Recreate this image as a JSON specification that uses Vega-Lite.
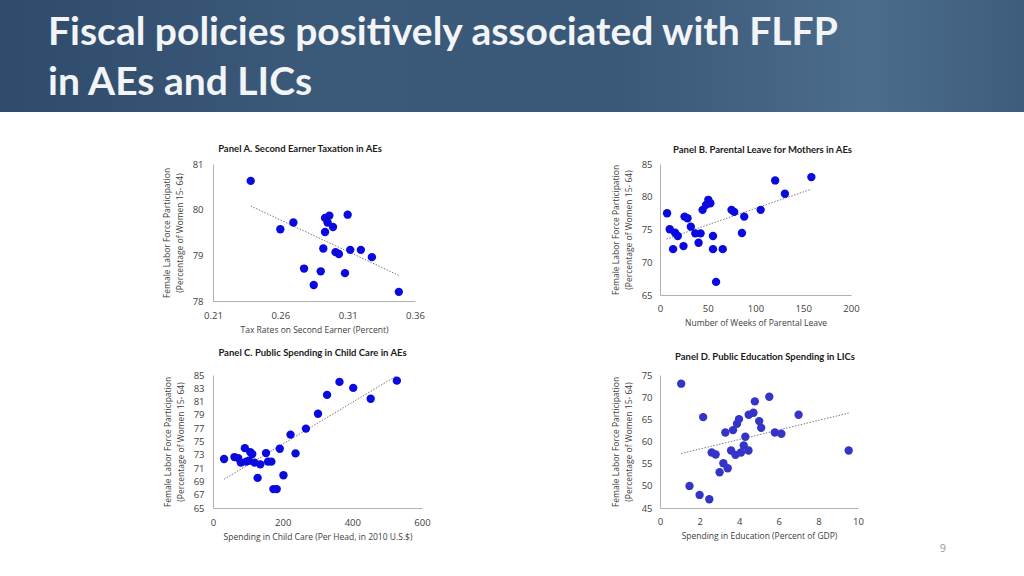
{
  "$schema": "https://vega.github.io/schema/vega-lite/v6.json",
  "padding": 0,
  "background": "white",
  "config": {
    "view": {"stroke": null},
    "axis": {"grid": false, "ticks": false, "labelOverlap": false, "labelFlush": false, "domainColor": "#b0b0b0", "labelColor": "#404040", "titleColor": "#404040", "labelFont": "Open Sans", "titleFont": "Open Sans", "labelFontSize": 9.5, "titleFontSize": 8.5, "titleFontWeight": "normal", "titleLineHeight": 12.5},
    "title": {"font": "Lato", "fontWeight": "bold", "fontSize": 9.5, "color": "#1a1a1a"}
  },
  "title": {"text": "9", "orient": "bottom", "anchor": "end", "frame": "bounds", "dx": -78, "offset": 2, "font": "Open Sans", "fontWeight": "normal", "fontSize": 11, "color": "#9a9a9a"},
  "datasets": {
    "a": [
      {"tax": 0.238, "flfp": 80.63}, {"tax": 0.260, "flfp": 79.57}, {"tax": 0.2697, "flfp": 79.72}, {"tax": 0.2776, "flfp": 78.71},
      {"tax": 0.2848, "flfp": 78.35}, {"tax": 0.290, "flfp": 78.65}, {"tax": 0.2919, "flfp": 79.15}, {"tax": 0.2932, "flfp": 79.51},
      {"tax": 0.2932, "flfp": 79.82}, {"tax": 0.2951, "flfp": 79.72}, {"tax": 0.2964, "flfp": 79.87}, {"tax": 0.2991, "flfp": 79.62},
      {"tax": 0.301, "flfp": 79.07}, {"tax": 0.3035, "flfp": 79.03}, {"tax": 0.308, "flfp": 78.61}, {"tax": 0.310, "flfp": 79.89},
      {"tax": 0.3119, "flfp": 79.12}, {"tax": 0.3198, "flfp": 79.12}, {"tax": 0.328, "flfp": 78.96}, {"tax": 0.348, "flfp": 78.2}
    ],
    "aTrend": [{"tax": 0.238, "flfp": 80.08}, {"tax": 0.348, "flfp": 78.56}],
    "b": [
      {"weeks": 7.4, "flfp": 77.48}, {"weeks": 10.2, "flfp": 75.03}, {"weeks": 13.7, "flfp": 72.0}, {"weeks": 15.8, "flfp": 74.51},
      {"weeks": 18.6, "flfp": 74.0}, {"weeks": 24.6, "flfp": 72.47}, {"weeks": 25.7, "flfp": 76.97}, {"weeks": 28.8, "flfp": 76.71},
      {"weeks": 32.3, "flfp": 75.43}, {"weeks": 36.9, "flfp": 74.41}, {"weeks": 40.4, "flfp": 72.98}, {"weeks": 42.5, "flfp": 74.41},
      {"weeks": 44.6, "flfp": 78.0}, {"weeks": 48.2, "flfp": 78.76}, {"weeks": 50.6, "flfp": 79.53}, {"weeks": 52.7, "flfp": 79.0},
      {"weeks": 55.5, "flfp": 74.0}, {"weeks": 55.5, "flfp": 72.0}, {"weeks": 58.7, "flfp": 67.0}, {"weeks": 65.7, "flfp": 72.0},
      {"weeks": 74.9, "flfp": 78.0}, {"weeks": 77.7, "flfp": 77.69}, {"weeks": 85.8, "flfp": 74.46}, {"weeks": 88.2, "flfp": 76.97},
      {"weeks": 105.4, "flfp": 78.0}, {"weeks": 120.6, "flfp": 82.49}, {"weeks": 130.8, "flfp": 80.45}, {"weeks": 158.5, "flfp": 83.0}
    ],
    "bTrend": [{"weeks": 6.7, "flfp": 73.54}, {"weeks": 158.5, "flfp": 81.16}],
    "c": [
      {"spend": 31.8, "flfp": 72.36}, {"spend": 61.6, "flfp": 72.66}, {"spend": 72.2, "flfp": 72.51}, {"spend": 79.9, "flfp": 71.82},
      {"spend": 91.5, "flfp": 74.0}, {"spend": 95.3, "flfp": 71.97}, {"spend": 103.1, "flfp": 72.11}, {"spend": 106.9, "flfp": 73.41},
      {"spend": 112.7, "flfp": 73.11}, {"spend": 119.4, "flfp": 71.82}, {"spend": 128.1, "flfp": 69.53}, {"spend": 135.8, "flfp": 71.57},
      {"spend": 152.2, "flfp": 73.26}, {"spend": 158.0, "flfp": 71.97}, {"spend": 167.6, "flfp": 71.97}, {"spend": 173.4, "flfp": 67.84},
      {"spend": 183.0, "flfp": 67.84}, {"spend": 191.7, "flfp": 73.91}, {"spend": 202.3, "flfp": 69.93}, {"spend": 222.5, "flfp": 76.04},
      {"spend": 237.0, "flfp": 73.21}, {"spend": 266.8, "flfp": 76.94}, {"spend": 301.5, "flfp": 79.18}, {"spend": 327.5, "flfp": 82.01},
      {"spend": 363.1, "flfp": 83.96}, {"spend": 402.6, "flfp": 83.06}, {"spend": 452.7, "flfp": 81.42}, {"spend": 527.8, "flfp": 84.15}
    ],
    "cTrend": [{"spend": 31.8, "flfp": 69.33}, {"spend": 523, "flfp": 84.75}],
    "d": [
      {"edu": 1.07, "flfp": 73.04}, {"edu": 1.49, "flfp": 49.98}, {"edu": 2.0, "flfp": 47.95}, {"edu": 2.18, "flfp": 65.5},
      {"edu": 2.49, "flfp": 46.97}, {"edu": 2.61, "flfp": 57.52}, {"edu": 2.81, "flfp": 57.06}, {"edu": 3.01, "flfp": 53.07},
      {"edu": 3.2, "flfp": 55.1}, {"edu": 3.3, "flfp": 62.04}, {"edu": 3.42, "flfp": 53.97}, {"edu": 3.59, "flfp": 57.97},
      {"edu": 3.69, "flfp": 62.57}, {"edu": 3.81, "flfp": 56.99}, {"edu": 3.89, "flfp": 64.0}, {"edu": 3.99, "flfp": 65.05},
      {"edu": 4.09, "flfp": 57.52}, {"edu": 4.23, "flfp": 59.1}, {"edu": 4.31, "flfp": 61.06}, {"edu": 4.47, "flfp": 57.97},
      {"edu": 4.48, "flfp": 66.03}, {"edu": 4.72, "flfp": 66.48}, {"edu": 4.79, "flfp": 69.05}, {"edu": 5.01, "flfp": 64.6},
      {"edu": 5.11, "flfp": 63.09}, {"edu": 5.52, "flfp": 70.1}, {"edu": 5.8, "flfp": 62.04}, {"edu": 6.13, "flfp": 61.74},
      {"edu": 7.0, "flfp": 66.03}, {"edu": 9.53, "flfp": 57.97}
    ],
    "dTrend": [{"edu": 1.07, "flfp": 57.29}, {"edu": 9.53, "flfp": 66.41}]
  },
  "spacing": 31,
  "vconcat": [
    {
      "width": 1024,
      "height": 112,
      "view": {"fill": {"gradient": "linear", "x1": 0, "y1": 0, "x2": 1, "y2": 0, "stops": [{"offset": 0, "color": "#2f4b6b"}, {"offset": 0.3, "color": "#3b5979"}, {"offset": 0.6, "color": "#3a5878"}, {"offset": 0.85, "color": "#4c6c8b"}, {"offset": 1, "color": "#3e5d7c"}]}, "stroke": null},
      "title": {"text": ["Fiscal policies positively associated with FLFP", "in AEs and LICs"], "anchor": "start", "frame": "group", "orient": "top", "baseline": "alphabetic", "offset": -134, "dx": 48, "font": "Lato", "fontWeight": "bold", "fontSize": 39, "color": "#f2f4f7", "lineHeight": 50},
      "data": {"values": [{"t": ""}]},
      "mark": {"type": "text"},
      "encoding": {"text": {"field": "t"}}
    },
    {
      "spacing": 161,
      "hconcat": [
        {
          "width": 1, "height": 1,
          "data": {"values": [{"t": ""}]},
          "mark": {"type": "text"},
          "encoding": {"text": {"field": "t"}}
        },
        {
          "columns": 2,
          "bounds": "flush",
          "spacing": {"row": 74, "column": 238},
          "concat": [
            {
              "width": 202, "height": 137,
              "title": {"text": "Panel A. Second Earner Taxation in AEs", "offset": 6, "dx": -14},
              "encoding": {
                "x": {"field": "tax", "type": "quantitative", "scale": {"domain": [0.21, 0.36], "nice": false}, "axis": {"values": [0.21, 0.26, 0.31, 0.36], "tickCount": 4, "format": ".2f", "labelOverlap": false, "labelFlush": false, "title": "Tax Rates on Second Earner (Percent)", "labelPadding": 9, "titlePadding": 6}},
                "y": {"field": "flfp", "type": "quantitative", "scale": {"domain": [78, 81], "zero": false, "nice": false}, "axis": {"values": [78, 79, 80, 81], "tickCount": 4, "labelOverlap": false, "labelFlush": false, "title": ["Female Labor Force Participation", "(Percentage of Women 15- 64)"], "labelPadding": 10, "titlePadding": 8}}
              },
              "layer": [
                {"data": {"name": "aTrend"}, "mark": {"type": "line", "color": "#7a7a7a", "strokeDash": [1.5, 1.5], "strokeWidth": 1}},
                {"data": {"name": "a"}, "mark": {"type": "circle", "size": 70, "color": "#0a0ae0", "opacity": 1}}
              ]
            },
            {
              "width": 191, "height": 131,
              "title": {"text": "Panel B. Parental Leave for Mothers in AEs", "offset": 5, "dx": 7},
              "encoding": {
                "x": {"field": "weeks", "type": "quantitative", "scale": {"domain": [0, 200], "nice": false}, "axis": {"values": [0, 50, 100, 150, 200], "tickCount": 5, "labelOverlap": false, "labelFlush": false, "title": "Number of Weeks of Parental Leave", "labelPadding": 8, "titlePadding": 6}},
                "y": {"field": "flfp", "type": "quantitative", "scale": {"domain": [65, 85], "zero": false, "nice": false}, "axis": {"values": [65, 70, 75, 80, 85], "tickCount": 5, "labelOverlap": false, "labelFlush": false, "title": ["Female Labor Force Participation", "(Percentage of Women 15- 64)"], "labelPadding": 8, "titlePadding": 8}}
              },
              "layer": [
                {"data": {"name": "bTrend"}, "mark": {"type": "line", "color": "#7a7a7a", "strokeDash": [1.5, 1.5], "strokeWidth": 1}},
                {"data": {"name": "b"}, "mark": {"type": "circle", "size": 70, "color": "#0a0ae0", "opacity": 1}}
              ]
            },
            {
              "width": 209, "height": 133,
              "title": {"text": "Panel C. Public Spending in Child Care in AEs", "offset": 13, "dx": -5},
              "encoding": {
                "x": {"field": "spend", "type": "quantitative", "scale": {"domain": [0, 600], "nice": false}, "axis": {"values": [0, 200, 400, 600], "tickCount": 4, "labelOverlap": false, "labelFlush": false, "title": "Spending in Child Care (Per Head, in 2010 U.S.$)", "labelPadding": 9, "titlePadding": 6}},
                "y": {"field": "flfp", "type": "quantitative", "scale": {"domain": [65, 85], "zero": false, "nice": false}, "axis": {"values": [65, 67, 69, 71, 73, 75, 77, 79, 81, 83, 85], "tickCount": 11, "labelOverlap": false, "labelFlush": false, "title": ["Female Labor Force Participation", "(Percentage of Women 15- 64)"], "labelPadding": 9, "titlePadding": 8}}
              },
              "layer": [
                {"data": {"name": "cTrend"}, "mark": {"type": "line", "color": "#7a7a7a", "strokeDash": [1.5, 1.5], "strokeWidth": 1}},
                {"data": {"name": "c"}, "mark": {"type": "circle", "size": 70, "color": "#0a0ae0", "opacity": 1}}
              ]
            },
            {
              "width": 198, "height": 133,
              "title": {"text": "Panel D. Public Education Spending in LICs", "offset": 9, "dx": 6},
              "encoding": {
                "x": {"field": "edu", "type": "quantitative", "scale": {"domain": [0, 10], "nice": false}, "axis": {"values": [0, 2, 4, 6, 8, 10], "tickCount": 6, "labelOverlap": false, "labelFlush": false, "title": "Spending in Education (Percent of GDP)", "labelPadding": 8, "titlePadding": 6}},
                "y": {"field": "flfp", "type": "quantitative", "scale": {"domain": [45, 75], "zero": false, "nice": false}, "axis": {"values": [45, 50, 55, 60, 65, 70, 75], "tickCount": 7, "labelOverlap": false, "labelFlush": false, "title": ["Female Labor Force  Participation", "(Percentage of Women 15- 64)"], "labelPadding": 8, "titlePadding": 8}}
              },
              "layer": [
                {"data": {"name": "dTrend"}, "mark": {"type": "line", "color": "#7a7a7a", "strokeDash": [1.5, 1.5], "strokeWidth": 1}},
                {"data": {"name": "d"}, "mark": {"type": "circle", "size": 70, "color": "#3434c8", "opacity": 1}}
              ]
            }
          ]
        }
      ]
    }
  ]
}
